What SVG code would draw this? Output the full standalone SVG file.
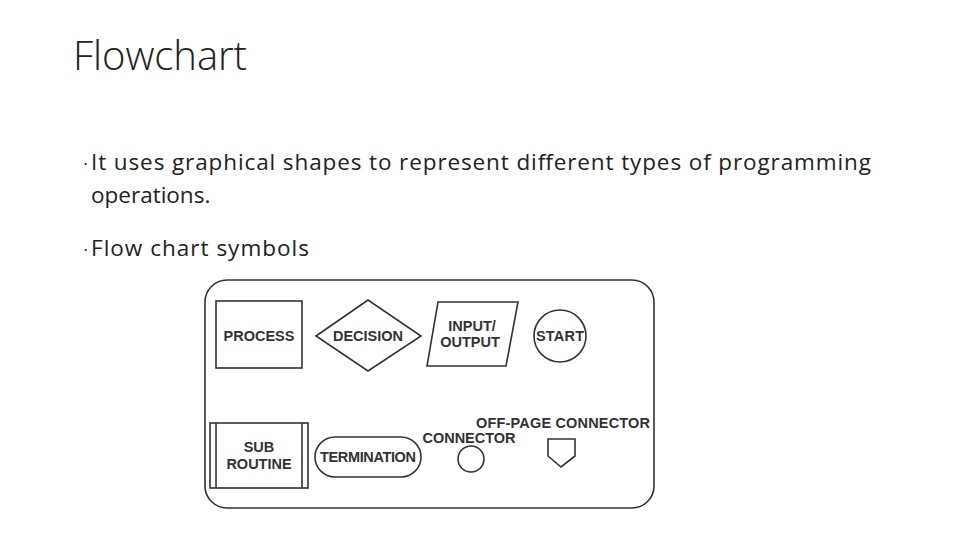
<svg xmlns="http://www.w3.org/2000/svg" width="960" height="540" viewBox="0 0 960 540">
<style>
.t{font-family:"Open Sans","Liberation Sans",sans-serif;fill:#222}
.s{fill:none;stroke:#333;stroke-width:1.6}
.l{font-family:"Liberation Sans",Arial,sans-serif;font-weight:bold;fill:#333;font-size:14.5px;text-anchor:middle}
</style>
<rect width="960" height="540" fill="#fff"/>
<text class="t" x="73" y="70" font-size="40" font-weight="300" textLength="174">Flowchart</text>
<text class="t" x="84" y="167" font-size="9">•</text>
<text class="t" x="91" y="170" font-size="22.5" textLength="780">It uses graphical shapes to represent different types of programming</text>
<text class="t" x="91" y="203" font-size="22.5">operations.</text>
<text class="t" x="84" y="253" font-size="9">•</text>
<text class="t" x="91" y="256" font-size="22.5" textLength="218">Flow chart symbols</text>
<g id="frame"><rect class="s" x="205" y="280" width="449" height="228" rx="22" stroke-width="2"/></g>
<g id="process"><rect class="s" x="216" y="301" width="86" height="67"/><text class="l" x="259" y="341">PROCESS</text></g>
<g id="decision"><polygon class="s" points="316,336 368,300 421,336 368,371"/><text class="l" x="368" y="341">DECISION</text></g>
<g id="io"><polygon class="s" points="438,302 518,302 506,366 427,366"/><text class="l" x="472" y="331">INPUT/</text><text class="l" x="470" y="347">OUTPUT</text></g>
<g id="start"><circle class="s" cx="560" cy="336" r="26"/><text class="l" x="560" y="341" textLength="48">START</text></g>
<g id="subroutine"><rect class="s" x="210" y="423" width="98" height="65"/><line class="s" x1="216" y1="423" x2="216" y2="488"/><line class="s" x1="302" y1="423" x2="302" y2="488"/><text class="l" x="259" y="452">SUB</text><text class="l" x="259" y="469">ROUTINE</text></g>
<g id="termination"><rect class="s" x="315" y="437" width="106" height="40" rx="20"/><text class="l" x="368" y="462" textLength="96">TERMINATION</text></g>
<g id="connector"><circle class="s" cx="471" cy="459" r="13"/><text class="l" x="469" y="443">CONNECTOR</text></g>
<g id="offpage"><polygon class="s" points="548,439 575,439 575,456 561,467 548,456"/><text class="l" x="563" y="428" textLength="174">OFF-PAGE CONNECTOR</text></g>
<g id="connectors"></g>
</svg>
